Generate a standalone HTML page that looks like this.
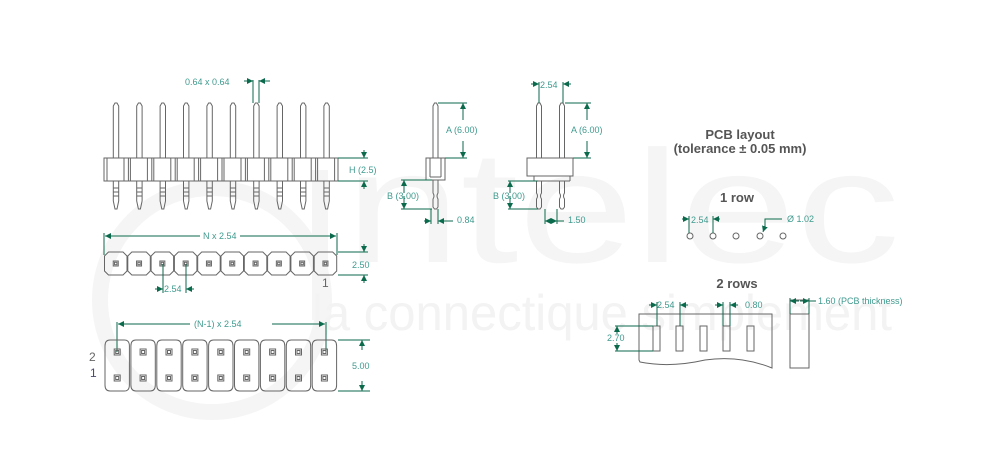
<!DOCTYPE html>
<html><head><meta charset="utf-8"><style>
html,body{margin:0;padding:0;background:#fff;}
svg{display:block;}
.o{fill:none;stroke:#666;stroke-width:1;}
.d{fill:none;stroke:#0b6a4c;stroke-width:1;}
.t{font-family:"Liberation Sans",sans-serif;font-size:9px;fill:#3f9a8e;}
.h{font-family:"Liberation Sans",sans-serif;font-size:13px;fill:#555;font-weight:bold;}
</style></head><body>
<svg id="s" width="988" height="469" viewBox="0 0 988 469" xmlns="http://www.w3.org/2000/svg">
<defs>
<marker id="a" viewBox="0 0 6 6" refX="6" refY="3" markerWidth="6" markerHeight="6" orient="auto-start-reverse"><path d="M0,0L6,3L0,6z" fill="#0b6a4c"/></marker>
</defs>
<circle cx="212" cy="300" r="112" fill="none" stroke="#f5f5f5" stroke-width="16"/>
<line x1="320" y1="170" x2="320" y2="320" stroke="#f5f5f5" stroke-width="16"/>
<text x="345" y="262" font-family="Liberation Sans,sans-serif" font-size="160" fill="#f5f5f5" textLength="555" lengthAdjust="spacingAndGlyphs">ntelec</text>
<text x="312" y="330" font-family="Liberation Sans,sans-serif" font-size="50" fill="#f3f3f3" textLength="580" lengthAdjust="spacingAndGlyphs">la connectique simplement</text>
<g id="g"></g>
<text class="t" x="185" y="85">0.64 x 0.64</text>
<text class="t" x="349" y="173">H (2.5)</text>
<text class="t" x="203" y="239">N x 2.54</text>
<text class="t" x="352" y="268">2.50</text>
<text x="322" y="287" font-family="Liberation Sans,sans-serif" font-size="12" fill="#666">1</text>
<text class="t" x="164" y="292">2.54</text>
<text class="t" x="194" y="327">(N-1) x 2.54</text>
<text class="t" x="352" y="369">5.00</text>
<text x="89" y="361" font-family="Liberation Sans,sans-serif" font-size="12" fill="#666">2</text>
<text x="90" y="377" font-family="Liberation Sans,sans-serif" font-size="12" fill="#4a4a6a">1</text>
<text class="t" x="446" y="133">A (6.00)</text>
<text class="t" x="387" y="199">B (3.00)</text>
<text class="t" x="457" y="223">0.84</text>
<text class="t" x="540" y="88">2.54</text>
<text class="t" x="571" y="133">A (6.00)</text>
<text class="t" x="493" y="199">B (3.00)</text>
<text class="t" x="568" y="223">1.50</text>
<text class="h" x="740" y="139" text-anchor="middle" font-size="12">PCB layout</text>
<text class="h" x="740" y="153" text-anchor="middle" font-size="12">(tolerance ± 0.05 mm)</text>
<text class="h" x="737" y="202" text-anchor="middle" font-size="12">1 row</text>
<text class="t" x="691" y="223">2.54</text>
<text class="t" x="787" y="222">Ø 1.02</text>
<text class="h" x="737" y="288" text-anchor="middle" font-size="12">2 rows</text>
<text class="t" x="657" y="308">2.54</text>
<text class="t" x="745" y="308">0.80</text>
<text class="t" x="607" y="341">2.70</text>
<text class="t" x="818" y="304">1.60 (PCB thickness)</text>
</svg>
<script>
var g=document.getElementById('g'),s='';
function L(x1,y1,x2,y2,c){s+='<line class="'+(c||'o')+'" x1="'+x1+'" y1="'+y1+'" x2="'+x2+'" y2="'+y2+'"/>';}
function R(x,y,w,h,c){s+='<rect class="'+(c||'o')+'" x="'+x+'" y="'+y+'" width="'+w+'" height="'+h+'"/>';}
function A(x1,y1,x2,y2){s+='<line class="d" x1="'+x1+'" y1="'+y1+'" x2="'+x2+'" y2="'+y2+'" marker-end="url(#a)"/>';}
function P(d,c){s+='<path class="'+(c||'o')+'" d="'+d+'"/>';}
for(var i=0;i<10;i++){var cx=116+i*23.4;
 P('M'+(cx-2.7)+',158V106L'+(cx-1)+',103H'+(cx+1)+'L'+(cx+2.7)+',106V158');
 P('M'+(cx-2.7)+',181V201L'+(cx-1)+',209H'+(cx+1)+'L'+(cx+2.7)+',201V181');
 L(cx-2.7,188,cx+2.7,188);L(cx-2.7,192,cx+2.7,192);L(cx-2.7,196,cx+2.7,196);
 var bx=104+i*23.4;L(bx+3,158,bx+3,181);L(bx+20,158,bx+20,181);
 if(i>0){L(bx+1,158,bx+1,181);}
}
R(104,158,234,23);
L(253,80,253,103,'d');L(259,80,259,103,'d');A(244,81,253,81);A(270,81,259,81);
L(338,158,368,158,'d');L(338,181,368,181,'d');A(364,150,364,158);A(364,189,364,181);
L(104,233,104,255,'d');L(337,233,337,255,'d');A(200,236,105,236);A(240,236,336,236);
for(var i=0;i<10;i++){var x=104.5+i*23.3,w=22.5;
 P('M'+(x+4)+',252H'+(x+w-4)+'L'+(x+w)+',256V271L'+(x+w-4)+',275H'+(x+4)+'L'+x+',271V256Z');
 R(x+w/2-2.5,261,5,5);R(x+w/2-1.2,262.3,2.4,2.4);}
L(338,252,368,252,'d');L(338,275,368,275,'d');A(364,244,364,252);A(364,283,364,275);
L(163,264,163,293,'d');L(186,264,186,293,'d');A(155,289,163,289);A(194,289,186,289);
L(117,322,117,352,'d');L(326,322,326,352,'d');A(190,324,118,324);A(272,324,325,324);
for(var i=0;i<9;i++){var x=105+i*25.9,w=24.4;
 P('M'+(x+5)+',340H'+(x+w-5)+'Q'+(x+w)+',340 '+(x+w)+',346V385Q'+(x+w)+',391 '+(x+w-5)+',391H'+(x+5)+'Q'+x+',391 '+x+',385V346Q'+x+',340 '+(x+5)+',340Z');
 var cx=x+w/2;R(cx-3,349,6,6);R(cx-1.5,350.5,3,3);R(cx-3,375,6,6);R(cx-1.5,376.5,3,3);}
L(338,340,370,340,'d');L(338,391,370,391,'d');A(362,350,362,340);A(362,381,362,391);
P('M433,158V106L434.5,103H436.5L438,106V158');R(426,158,19,22);L(430,158,430,177);L(441,158,441,177);L(430,177,441,177);
P('M433,180V193Q435,196 433,199V207L434.5,209H436.5L438,207V199Q436,196 438,193V180');
L(438,103,467,103,'d');L(445,158,467,158,'d');A(463,120,463,103);A(463,141,463,158);
L(401,180,432,180,'d');L(401,209,432,209,'d');A(404,193,404,180);A(404,196,404,209);
L(431,209,431,224,'d');L(438,209,438,224,'d');A(424,221,431,221);A(453,221,438,221);
[539,562].forEach(function(cx){P('M'+(cx-2.5)+',158V106L'+(cx-1)+',103H'+(cx+1)+'L'+(cx+2.5)+',106V158');
 P('M'+(cx-2.5)+',181V193Q'+(cx-0.5)+',196 '+(cx-2.5)+',199V207L'+(cx-1)+',209H'+(cx+1)+'L'+(cx+2.5)+',207V199Q'+(cx+0.5)+',196 '+(cx+2.5)+',193V181');});
R(527,158,46,18);L(534,176,534,181);L(570,176,570,181);L(534,181,570,181);
L(539,82,539,103,'d');L(563,82,563,103,'d');A(531,84,539,84);A(571,84,563,84);
L(565,103,591,103,'d');L(573,158,591,158,'d');A(587,120,587,103);A(587,141,587,158);
L(508,181,538,181,'d');L(508,209,538,209,'d');A(510,193,510,181);A(510,196,510,209);
L(545,209,545,224,'d');L(557,209,557,224,'d');L(545,221,557,221,'d');A(551,221,545,221);A(551,221,557,221);L(557,221,564,221,'d');
[690,713,736,760,783].forEach(function(x){s+='<circle class="o" cx="'+x+'" cy="236" r="3"/>';});
L(689,216,689,233,'d');L(713,216,713,233,'d');A(682,219,689,219);A(720,219,713,219);
P('M782,219H765V226','d');A(765,226,763,232);
P('M639,314H772V368Q740,355 705,360Q670,368 640,362L639,360Z');
[653,676,700,723,747].forEach(function(x){R(x,326,7,25);});
L(657,302,657,326,'d');L(680,302,680,326,'d');A(649,305,657,305);A(688,305,680,305);
L(723,302,723,326,'d');L(730,302,730,326,'d');A(715,305,723,305);A(738,305,730,305);
L(615,326,653,326,'d');L(615,351,653,351,'d');A(617,334,617,326);A(617,343,617,351);
R(790,300,19,68);L(790,314,809,314);
L(790,298,790,314,'d');L(809,298,809,314,'d');A(799,301,790,301);A(800,301,809,301);L(809,301,816,301,'d');
g.innerHTML=s;
</script>
</body></html>
